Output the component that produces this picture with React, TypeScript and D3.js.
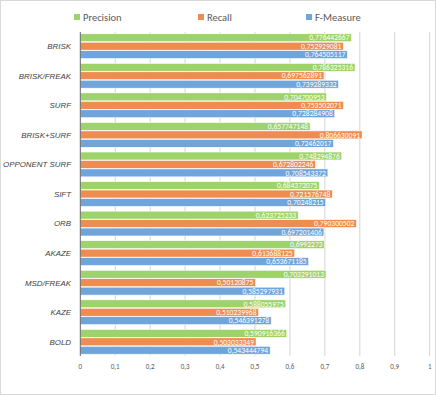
import React, { useEffect, useRef } from "react";
import * as d3 from "d3";

const categories = ["BRISK", "BRISK/FREAK", "SURF", "BRISK+SURF", "OPPONENT SURF", "SIFT", "ORB", "AKAZE", "MSD/FREAK", "KAZE", "BOLD"];
const precision = ["0,776442667", "0,786325316", "0,704700953", "0,657747148", "0,748294876", "0,684372075", "0,623725233", "0,6992273", "0,703291013", "0,588055975", "0,590916366"];
const recall = ["0,752929081", "0,697562891", "0,753502071", "0,806630091", "0,672802246", "0,721576748", "0,790300502", "0,613688125", "0,50120875", "0,510239968", "0,503033349"];
const fmeasure = ["0,764505117", "0,739289332", "0,728284908", "0,72462017", "0,708543372", "0,70248215", "0,697201406", "0,653671185", "0,585297931", "0,546391278", "0,543444794"];
const seriesNames = ["Precision", "Recall", "F-Measure"];
const colors = ["#9dd36a", "#ef8c50", "#6fa5da"];
const ticks = [0, 0.1, 0.2, 0.3, 0.4, 0.5, 0.6, 0.7, 0.8, 0.9, 1];

const num = (s: string) => +s.replace(",", ".");

export default function App() {
  const ref = useRef<SVGSVGElement>(null);

  useEffect(() => {
    const svg = d3.select(ref.current);
    svg.selectAll("*").remove();
    const font = "Carlito, Lato, 'Open Sans', sans-serif";

    svg.append("rect").attr("x", 0.5).attr("y", 0.5).attr("width", 435).attr("height", 394)
      .attr("fill", "#fff").attr("stroke", "#d9d9d9");

    const x = d3.scaleLinear().domain([0, 1]).range([80.3, 429.7]);
    const y = d3.scaleBand().domain(categories).range([32, 356]).paddingInner(0.16).paddingOuter(0.06);
    const inner = d3.scaleBand().domain(seriesNames).range([0, y.bandwidth()]).paddingInner(0.06);

    // grid
    svg.append("g").selectAll("line").data(ticks.slice(1)).enter().append("line")
      .attr("x1", d => x(d)).attr("x2", d => x(d)).attr("y1", 32).attr("y2", 356)
      .attr("stroke", "#c8c8c8").attr("stroke-width", 0.8);

    const data = [precision, recall, fmeasure];
    seriesNames.forEach((s, si) => {
      const g = svg.append("g");
      const rows = g.selectAll("g").data(categories).enter().append("g");
      rows.append("rect")
        .attr("x", x(0))
        .attr("y", (c) => (y(c) as number) + (inner(s) as number))
        .attr("width", (c, i) => x(num(data[si][i])) - x(0))
        .attr("height", inner.bandwidth())
        .attr("fill", colors[si])
        .attr("stroke", "#fff").attr("stroke-width", 0.6);
      rows.append("text")
        .attr("x", (c, i) => x(num(data[si][i])) - 2)
        .attr("y", (c) => (y(c) as number) + (inner(s) as number) + inner.bandwidth() / 2)
        .attr("dy", "0.36em")
        .attr("text-anchor", "end")
        .attr("font-family", font)
        .attr("font-size", 7.6)
        .attr("fill", "#fff")
        .text((c, i) => data[si][i]);
    });

    // zero axis line
    svg.append("line").attr("x1", x(0)).attr("x2", x(0)).attr("y1", 32).attr("y2", 356)
      .attr("stroke", "#404040").attr("stroke-width", 0.8);

    // category labels
    svg.append("g").selectAll("text").data(categories).enter().append("text")
      .attr("x", 71)
      .attr("y", d => (y(d) as number) + y.bandwidth() / 2)
      .attr("dy", "0.36em")
      .attr("text-anchor", "end")
      .attr("font-family", "'Liberation Sans', Arial, sans-serif")
      .attr("font-style", "italic")
      .attr("font-size", 7.9)
      .attr("fill", "#404040")
      .text(d => d);

    // x tick labels
    svg.append("g").selectAll("text").data(ticks).enter().append("text")
      .attr("x", d => x(d)).attr("y", 369)
      .attr("text-anchor", "middle")
      .attr("font-family", font).attr("font-size", 7).attr("fill", "#595959")
      .text(d => String(d).replace(".", ","));

    // legend
    const lx = [74, 198, 306];
    const leg = svg.append("g").selectAll("g").data(seriesNames).enter().append("g")
      .attr("transform", (d, i) => `translate(${lx[i]},17)`);
    leg.append("rect").attr("x", 0).attr("y", -3).attr("width", 6).attr("height", 6)
      .attr("fill", (d, i) => colors[i]);
    leg.append("text").attr("x", 9).attr("dy", "0.36em")
      .attr("font-family", font).attr("font-size", 10.5).attr("fill", "#595959")
      .text(d => d);
  }, []);

  return <svg ref={ref} width={436} height={395} style={{ display: "block", position: "absolute", left: 0, top: 0 }} />;
}
